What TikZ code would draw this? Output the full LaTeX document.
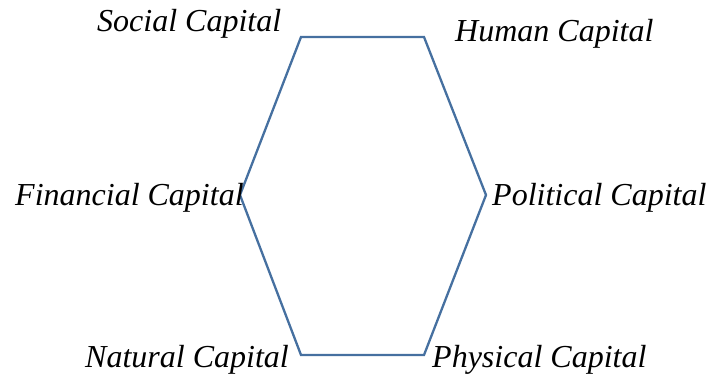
\documentclass[tikz,border=0pt]{standalone}
\usepackage{fontspec}
\setmainfont{Liberation Serif}
\definecolor{hexblue}{RGB}{70,112,160}
\begin{document}
\begin{tikzpicture}[x=1pt,y=-1pt,
  lbl/.style={anchor=base west,inner sep=0pt,font=\fontsize{32}{37}\selectfont\itshape}]
\useasboundingbox (0,0) rectangle (715,377);
\coordinate (tl) at (301,37);
\coordinate (tr) at (424,37);
\coordinate (r) at (486,195);
\coordinate (br) at (424,355);
\coordinate (bl) at (301,355);
\coordinate (l) at (240,195);
\draw[hexblue,line width=2.3pt,line join=miter] (tl) -- (tr) -- (r) -- (br) -- (bl) -- (l) -- cycle;
\node[lbl] (soc) at (97,32) {Social Capital};
\node[lbl] (hum) at (455,42) {Human Capital};
\node[lbl] (fin) at (15,205) {Financial Capital};
\node[lbl] (pol) at (492,205) {Political Capital};
\node[lbl] (nat) at (85,367) {Natural Capital};
\node[lbl] (phy) at (432,367) {Physical Capital};
\end{tikzpicture}
\end{document}
